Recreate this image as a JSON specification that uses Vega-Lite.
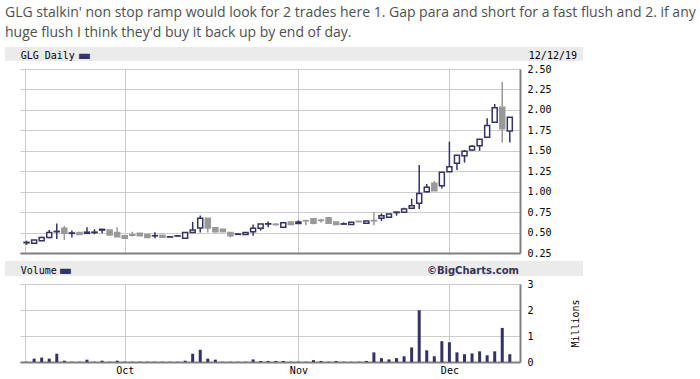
{
  "$schema": "https://vega.github.io/schema/vega-lite/v6.json",
  "background": "white",
  "padding": {"left": 5, "top": 6, "right": 0, "bottom": 0},
  "title": {
    "text": ["GLG stalkin' non stop ramp would look for 2 trades here 1. Gap para and short for a fast flush and 2. if any", "huge flush I think they'd buy it back up by end of day."],
    "anchor": "start", "frame": "group", "font": "Open Sans", "fontSize": 14, "fontWeight": "normal",
    "color": "#4f4f4f", "lineHeight": 19.5, "offset": 7
  },
  "config": {
    "view": {"stroke": null},
    "axis": {"labelFont": "DejaVu Sans Mono", "labelFontSize": 10, "labelColor": "#000000", "gridColor": "#cccccc", "gridWidth": 1, "ticks": false, "domainColor": "#808080", "domainWidth": 2, "labelOverlap": false, "labelBound": false}
  },
  "datasets": {
    "prices": [
      {"i":0,"o":0.375,"h":0.40,"l":0.35,"c":0.38,"v":0.01},
      {"i":1,"o":0.37,"h":0.41,"l":0.37,"c":0.41,"v":0.13},
      {"i":2,"o":0.40,"h":0.45,"l":0.40,"c":0.44,"v":0.17},
      {"i":3,"o":0.44,"h":0.53,"l":0.43,"c":0.50,"v":0.13},
      {"i":4,"o":0.51,"h":0.61,"l":0.42,"c":0.515,"v":0.32},
      {"i":5,"o":0.553,"h":0.58,"l":0.41,"c":0.49,"v":0.05},
      {"i":6,"o":0.49,"h":0.525,"l":0.44,"c":0.495,"v":0.01},
      {"i":7,"o":0.50,"h":0.50,"l":0.475,"c":0.475,"v":0.01},
      {"i":8,"o":0.49,"h":0.565,"l":0.49,"c":0.505,"v":0.09},
      {"i":9,"o":0.50,"h":0.54,"l":0.48,"c":0.505,"v":0.01},
      {"i":10,"o":0.53,"h":0.54,"l":0.49,"c":0.54,"v":0.05},
      {"i":11,"o":0.53,"h":0.535,"l":0.47,"c":0.47,"v":0.01},
      {"i":12,"o":0.50,"h":0.565,"l":0.45,"c":0.45,"v":0.05},
      {"i":13,"o":0.46,"h":0.46,"l":0.43,"c":0.43,"v":0.01},
      {"i":14,"o":0.472,"h":0.51,"l":0.45,"c":0.468,"v":0.01},
      {"i":15,"o":0.49,"h":0.49,"l":0.46,"c":0.46,"v":0.01},
      {"i":16,"o":0.475,"h":0.475,"l":0.435,"c":0.44,"v":0.01},
      {"i":17,"o":0.46,"h":0.505,"l":0.43,"c":0.462,"v":0.01},
      {"i":18,"o":0.467,"h":0.467,"l":0.443,"c":0.443,"v":0.01},
      {"i":19,"o":0.445,"h":0.455,"l":0.445,"c":0.448,"v":0.01},
      {"i":20,"o":0.457,"h":0.465,"l":0.455,"c":0.46,"v":0.01},
      {"i":21,"o":0.43,"h":0.50,"l":0.43,"c":0.50,"v":0.05},
      {"i":22,"o":0.50,"h":0.63,"l":0.50,"c":0.53,"v":0.32},
      {"i":23,"o":0.555,"h":0.71,"l":0.50,"c":0.675,"v":0.47},
      {"i":24,"o":0.675,"h":0.675,"l":0.50,"c":0.555,"v":0.13},
      {"i":25,"o":0.56,"h":0.565,"l":0.50,"c":0.51,"v":0.09},
      {"i":26,"o":0.54,"h":0.54,"l":0.51,"c":0.51,"v":0.01},
      {"i":27,"o":0.50,"h":0.50,"l":0.44,"c":0.46,"v":0.01},
      {"i":28,"o":0.478,"h":0.49,"l":0.47,"c":0.482,"v":0.01},
      {"i":29,"o":0.475,"h":0.50,"l":0.475,"c":0.50,"v":0.01},
      {"i":30,"o":0.51,"h":0.60,"l":0.46,"c":0.553,"v":0.10},
      {"i":31,"o":0.553,"h":0.606,"l":0.525,"c":0.606,"v":0.04},
      {"i":32,"o":0.604,"h":0.635,"l":0.565,"c":0.608,"v":0.04},
      {"i":33,"o":0.602,"h":0.615,"l":0.585,"c":0.598,"v":0.04},
      {"i":34,"o":0.565,"h":0.62,"l":0.565,"c":0.62,"v":0.04},
      {"i":35,"o":0.63,"h":0.63,"l":0.60,"c":0.60,"v":0.01},
      {"i":36,"o":0.61,"h":0.65,"l":0.61,"c":0.63,"v":0.01},
      {"i":37,"o":0.647,"h":0.655,"l":0.59,"c":0.643,"v":0.01},
      {"i":38,"o":0.67,"h":0.67,"l":0.60,"c":0.615,"v":0.07},
      {"i":39,"o":0.652,"h":0.67,"l":0.62,"c":0.648,"v":0.04},
      {"i":40,"o":0.68,"h":0.68,"l":0.615,"c":0.615,"v":0.01},
      {"i":41,"o":0.63,"h":0.63,"l":0.60,"c":0.60,"v":0.04},
      {"i":42,"o":0.603,"h":0.625,"l":0.60,"c":0.607,"v":0.01},
      {"i":43,"o":0.60,"h":0.625,"l":0.60,"c":0.625,"v":0.01},
      {"i":44,"o":0.637,"h":0.64,"l":0.63,"c":0.633,"v":0.01},
      {"i":45,"o":0.615,"h":0.64,"l":0.615,"c":0.64,"v":0.04},
      {"i":46,"o":0.647,"h":0.75,"l":0.59,"c":0.643,"v":0.37},
      {"i":47,"o":0.674,"h":0.735,"l":0.641,"c":0.706,"v":0.15},
      {"i":48,"o":0.686,"h":0.727,"l":0.686,"c":0.727,"v":0.10},
      {"i":49,"o":0.745,"h":0.751,"l":0.706,"c":0.751,"v":0.15},
      {"i":50,"o":0.747,"h":0.804,"l":0.747,"c":0.788,"v":0.22},
      {"i":51,"o":0.796,"h":0.914,"l":0.796,"c":0.829,"v":0.56},
      {"i":52,"o":0.857,"h":1.326,"l":0.788,"c":0.979,"v":1.99},
      {"i":53,"o":1.00,"h":1.094,"l":0.988,"c":1.053,"v":0.45},
      {"i":54,"o":1.102,"h":1.13,"l":1.012,"c":1.012,"v":0.22},
      {"i":55,"o":1.073,"h":1.236,"l":1.04,"c":1.236,"v":0.80},
      {"i":56,"o":1.244,"h":1.611,"l":1.244,"c":1.306,"v":0.76},
      {"i":57,"o":1.346,"h":1.444,"l":1.265,"c":1.444,"v":0.37},
      {"i":58,"o":1.44,"h":1.51,"l":1.355,"c":1.493,"v":0.30},
      {"i":59,"o":1.509,"h":1.57,"l":1.50,"c":1.554,"v":0.33},
      {"i":60,"o":1.562,"h":1.64,"l":1.50,"c":1.64,"v":0.41},
      {"i":61,"o":1.664,"h":1.897,"l":1.664,"c":1.81,"v":0.26},
      {"i":62,"o":1.85,"h":2.072,"l":1.85,"c":2.027,"v":0.41},
      {"i":63,"o":2.031,"h":2.34,"l":1.60,"c":1.77,"v":1.31},
      {"i":64,"o":1.742,"h":1.909,"l":1.60,"c":1.909,"v":0.30}
    ]
  },
  "bounds": "flush",
  "spacing": 8,
  "vconcat": [
    {
      "width": 578, "height": 14,
      "view": {"fill": "#ebebeb", "stroke": null},
      "data": {"values": [{"a": "GLG Daily", "b": "▬", "c": "12/12/19"}]},
      "layer": [
        {"mark": {"type": "text", "align": "left", "baseline": "middle", "dx": 15.7, "dy": 1.5, "font": "DejaVu Sans Mono", "fontSize": 10, "color": "#000000"},
         "encoding": {"text": {"field": "a"}, "x": {"datum": 0, "type": "quantitative", "scale": {"domain": [0, 1], "nice": false}, "axis": null}}},
        {"mark": {"type": "text", "align": "left", "baseline": "middle", "dx": 74, "dy": 1.5, "font": "DejaVu Sans Mono", "fontSize": 18, "color": "#333366"},
         "encoding": {"text": {"field": "b"}, "x": {"datum": 0, "type": "quantitative"}}},
        {"mark": {"type": "text", "align": "right", "baseline": "middle", "dx": -6, "dy": 1.5, "font": "DejaVu Sans Mono", "fontSize": 10, "color": "#000000"},
         "encoding": {"text": {"field": "c"}, "x": {"datum": 1, "type": "quantitative"}}}
      ]
    },
    {
      "width": 515, "height": 184,
      "data": {"name": "prices"},
      "encoding": {
        "x": {"field": "i", "type": "quantitative", "scale": {"domain": [-2.195, 64.688], "nice": false, "zero": false},
              "axis": {"values": [-0.25, 13, 36, 56], "tickCount": 20, "labels": false, "grid": true, "domainDash": [500, 15], "domainDashOffset": 500, "title": null}}
      },
      "layer": [
        {"mark": {"type": "rule", "strokeWidth": 1.5},
         "encoding": {
           "y": {"field": "l", "type": "quantitative", "scale": {"domain": [0.25, 2.5], "nice": false, "zero": false},
                 "axis": {"orient": "right", "values": [0.25, 0.5, 0.75, 1, 1.25, 1.5, 1.75, 2, 2.25, 2.5], "tickCount": 10, "format": ".2f", "grid": true, "gridDash": [500, 100], "labelPadding": 7, "title": null}},
           "y2": {"field": "h"},
           "color": {"condition": {"test": "datum.c >= datum.o", "value": "#333366"}, "value": "#999999"}
         }},
        {"mark": {"type": "bar", "size": 5, "strokeWidth": 1.5},
         "encoding": {
           "y": {"field": "o", "type": "quantitative", "axis": {"title": null}},
           "y2": {"field": "c"},
           "fill": {"condition": {"test": "datum.c >= datum.o", "value": "#ffffff"}, "value": "#999999"},
           "stroke": {"condition": {"test": "datum.c >= datum.o", "value": "#333366"}, "value": "#999999"}
         }}
      ]
    },
    {
      "width": 578, "height": 15,
      "view": {"fill": "#ebebeb", "stroke": null},
      "data": {"values": [{"a": "Volume", "b": "▬", "c": "©BigCharts.com"}]},
      "layer": [
        {"mark": {"type": "text", "align": "left", "baseline": "middle", "dx": 15.7, "dy": 2, "font": "DejaVu Sans Mono", "fontSize": 10, "color": "#000000"},
         "encoding": {"text": {"field": "a"}, "x": {"datum": 0, "type": "quantitative", "scale": {"domain": [0, 1], "nice": false}, "axis": null}}},
        {"mark": {"type": "text", "align": "left", "baseline": "middle", "dx": 55, "dy": 2, "font": "DejaVu Sans Mono", "fontSize": 18, "color": "#333366"},
         "encoding": {"text": {"field": "b"}, "x": {"datum": 0, "type": "quantitative"}}},
        {"mark": {"type": "text", "align": "right", "baseline": "middle", "dx": -64, "dy": 2, "font": "DejaVu Sans", "fontWeight": "bold", "fontSize": 10, "color": "#333355"},
         "encoding": {"text": {"field": "c"}, "x": {"datum": 1, "type": "quantitative"}}}
      ]
    },
    {
      "width": 515, "height": 78,
      "data": {"name": "prices"},
      "mark": {"type": "bar", "size": 3, "color": "#333366"},
      "encoding": {
        "x": {"field": "i", "type": "quantitative", "scale": {"domain": [-2.195, 64.688], "nice": false, "zero": false},
              "axis": {"values": [-0.25, 13, 36, 56], "tickCount": 20, "grid": true, "labelExpr": "datum.value == 13 ? 'Oct' : datum.value == 36 ? 'Nov' : datum.value == 56 ? 'Dec' : ''", "labelPadding": 3, "labelFlush": false, "domainDash": [500, 15], "domainDashOffset": 500, "title": null}},
        "y": {"field": "v", "type": "quantitative", "scale": {"domain": [0, 3], "nice": false},
              "axis": {"orient": "right", "values": [0, 1, 2, 3], "tickCount": 4, "grid": true, "gridDash": [500, 100], "labelPadding": 7, "title": "Millions", "titleAngle": 270, "titleFont": "DejaVu Sans Mono", "titleFontSize": 10, "titleFontWeight": "normal", "titleColor": "#000000", "titlePadding": 47}}
      }
    }
  ]
}
